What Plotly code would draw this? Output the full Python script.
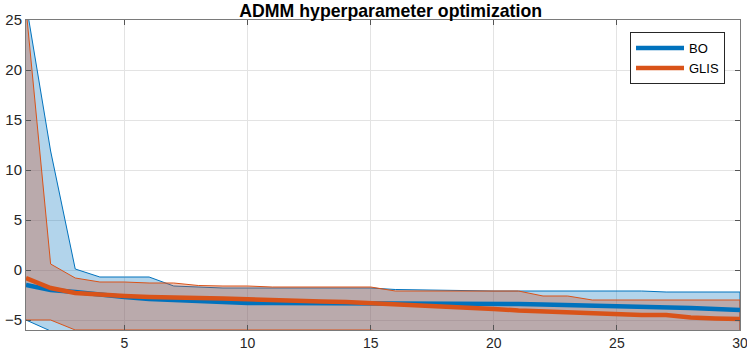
import plotly.graph_objects as go

# iterations
iters = list(range(1, 31))

# BO: mean and band (upper / lower)
bo_mean = [-1.5, -2.0, -2.2, -2.5, -2.7, -2.9, -3.0, -3.15, -3.25, -3.3,
           -3.3, -3.3, -3.3, -3.3, -3.3, -3.35, -3.35, -3.35, -3.4, -3.4,
           -3.4, -3.45, -3.5, -3.55, -3.6, -3.6, -3.65, -3.8, -3.9, -4.0]
bo_upper = [26.7, 11.9, 0.1, -0.7, -0.7, -0.7, -1.6, -1.7, -1.8, -1.8,
            -1.8, -1.8, -1.8, -1.8, -1.8, -1.95, -2.0, -2.05, -2.1, -2.1,
            -2.1, -2.1, -2.1, -2.1, -2.1, -2.1, -2.2, -2.2, -2.2, -2.2]
bo_lower = [-5.0, -6.1, -6.5, -6.5, -6.5, -6.5, -6.5, -6.5, -6.5, -6.5,
            -6.5, -6.5, -6.5, -6.5, -6.5, -6.5, -6.5, -6.5, -6.5, -6.5,
            -6.5, -6.5, -6.5, -6.5, -6.5, -6.5, -6.5, -6.5, -6.5, -6.5]

# GLIS: mean and band
glis_mean = [-0.8, -1.8, -2.3, -2.5, -2.6, -2.7, -2.8, -2.8, -2.85, -2.95,
             -3.05, -3.1, -3.15, -3.2, -3.3, -3.4, -3.5, -3.65, -3.8, -3.9,
             -4.05, -4.15, -4.25, -4.3, -4.4, -4.5, -4.5, -4.75, -4.85, -4.9]
glis_upper = [26.2, 0.6, -0.8, -1.2, -1.2, -1.3, -1.3, -1.55, -1.6, -1.6,
              -1.7, -1.7, -1.7, -1.7, -1.7, -2.1, -2.1, -2.1, -2.1, -2.1,
              -2.1, -2.6, -2.6, -3.0, -3.0, -3.0, -3.0, -3.0, -3.0, -3.0]
glis_lower = [-5.0, -5.0, -6.0, -6.0, -6.0, -6.0, -6.0, -6.0, -6.0, -6.0,
              -6.0, -6.0, -6.0, -6.0, -6.0, -6.4, -6.4, -6.4, -6.4, -6.4,
              -6.4, -6.4, -6.4, -6.4, -6.4, -6.4, -6.4, -6.4, -6.4, -6.4]

BLUE = '#0072BD'
ORANGE = '#D95319'

fig = go.Figure()

# shaded bands
fig.add_trace(go.Scatter(
    x=iters + iters[::-1],
    y=bo_upper + bo_lower[::-1],
    fill='toself',
    fillcolor='rgba(0,114,189,0.3)',
    line=dict(color=BLUE, width=1),
    showlegend=False, hoverinfo='skip'
))
fig.add_trace(go.Scatter(
    x=iters + iters[::-1],
    y=glis_upper + glis_lower[::-1],
    fill='toself',
    fillcolor='rgba(205,80,40,0.32)',
    line=dict(color=ORANGE, width=1),
    showlegend=False, hoverinfo='skip'
))

# mean curves
fig.add_trace(go.Scatter(x=iters, y=bo_mean, mode='lines', name='BO',
                         line=dict(color=BLUE, width=4.5)))
fig.add_trace(go.Scatter(x=iters, y=glis_mean, mode='lines', name='GLIS',
                         line=dict(color=ORANGE, width=4.5)))

axis_common = dict(
    showgrid=True, gridcolor='#e3e3e3', gridwidth=1,
    showline=True, linecolor='#7a7a7a', linewidth=1, mirror='allticks',
    ticks='inside', ticklen=5, tickcolor='#555555',
    zeroline=False, automargin=False,
    ticklabeloverflow='allow',
)

fig.update_xaxes(range=[1, 30], tickvals=[5, 10, 15, 20, 25, 30],
                 tickfont=dict(size=14, color='#262626'), **axis_common)
fig.update_yaxes(range=[-6, 25], tickvals=[-5, 0, 5, 10, 15, 20, 25],
                 tickfont=dict(size=15, color='#262626'), **axis_common)

fig.update_layout(
    width=747, height=351,
    margin=dict(l=26, r=7, t=20, b=21),
    paper_bgcolor='white', plot_bgcolor='white',
    font=dict(family='Liberation Sans, Arial, sans-serif', color='#262626'),
    title=dict(text='<b>ADMM hyperparameter optimization</b>',
               x=0.523, xanchor='center', y=0.988, yanchor='top',
               font=dict(size=17.7, color='black')),
    legend=dict(x=0.979, xanchor='right', y=0.961, yanchor='top',
                bgcolor='white', bordercolor='#262626', borderwidth=1,
                font=dict(size=13, color='black'),
                tracegroupgap=0, itemwidth=48),
    showlegend=True,
)

# page body has a default 8px margin; drop it so the figure sits at (0, 0)
fig.write_html("out.html", config={'displayModeBar': False},
               post_script="document.body.style.margin='0';")
